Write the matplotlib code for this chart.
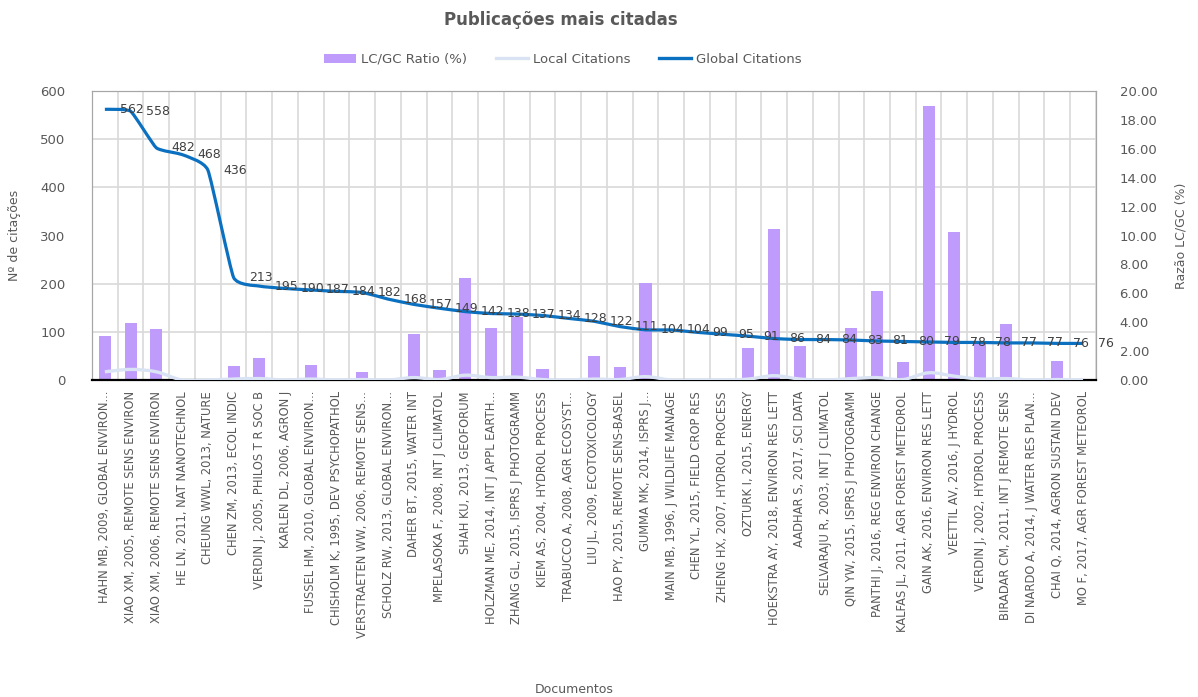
import numpy as np
import matplotlib
matplotlib.use("Agg")
import matplotlib.pyplot as plt
from matplotlib.path import Path
from matplotlib.patches import PathPatch, Patch
from matplotlib.lines import Line2D
from matplotlib.ticker import MultipleLocator, FixedLocator, FormatStrFormatter

# documentos (autor, ano, fonte)
documentos = [
    "HAHN MB, 2009, GLOBAL ENVIRON...", "XIAO XM, 2005, REMOTE SENS ENVIRON",
    "XIAO XM, 2006, REMOTE SENS ENVIRON", "HE LN, 2011, NAT NANOTECHNOL",
    "CHEUNG WWL, 2013, NATURE", "CHEN ZM, 2013, ECOL INDIC",
    "VERDIN J, 2005, PHILOS T R SOC B", "KARLEN DL, 2006, AGRON J",
    "FUSSEL HM, 2010, GLOBAL ENVIRON...", "CHISHOLM K, 1995, DEV PSYCHOPATHOL",
    "VERSTRAETEN WW, 2006, REMOTE SENS...", "SCHOLZ RW, 2013, GLOBAL ENVIRON...",
    "DAHER BT, 2015, WATER INT", "MPELASOKA F, 2008, INT J CLIMATOL",
    "SHAH KU, 2013, GEOFORUM", "HOLZMAN ME, 2014, INT J APPL EARTH...",
    "ZHANG GL, 2015, ISPRS J PHOTOGRAMM", "KIEM AS, 2004, HYDROL PROCESS",
    "TRABUCCO A, 2008, AGR ECOSYST...", "LIU JL, 2009, ECOTOXICOLOGY",
    "HAO PY, 2015, REMOTE SENS-BASEL", "GUMMA MK, 2014, ISPRS J...",
    "MAIN MB, 1996, J WILDLIFE MANAGE", "CHEN YL, 2015, FIELD CROP RES",
    "ZHENG HX, 2007, HYDROL PROCESS", "OZTURK I, 2015, ENERGY",
    "HOEKSTRA AY, 2018, ENVIRON RES LETT", "AADHAR S, 2017, SCI DATA",
    "SELVARAJU R, 2003, INT J CLIMATOL", "QIN YW, 2015, ISPRS J PHOTOGRAMM",
    "PANTHI J, 2016, REG ENVIRON CHANGE", "KALFAS JL, 2011, AGR FOREST METEOROL",
    "GAIN AK, 2016, ENVIRON RES LETT", "VEETTIL AV, 2016, J HYDROL",
    "VERDIN J, 2002, HYDROL PROCESS", "BIRADAR CM, 2011, INT J REMOTE SENS",
    "DI NARDO A, 2014, J WATER RES PLAN...", "CHAI Q, 2014, AGRON SUSTAIN DEV",
    "MO F, 2017, AGR FOREST METEOROL",
]

global_cit = [562, 558, 482, 468, 436, 213, 195, 190, 187, 184, 182, 168, 157,
              149, 142, 138, 137, 134, 128, 122, 111, 104, 104, 99, 95, 91, 86,
              84, 84, 83, 81, 80, 79, 78, 78, 77, 77, 76, 76]

local_cit = [17, 22, 17, 0, 0, 2, 3, 0, 2, 0, 1, 0, 5,
             1, 10, 5, 6, 1, 0, 2, 1, 7, 0, 0, 0, 2, 9,
             2, 0, 3, 5, 1, 15, 8, 2, 3, 0, 1, 0]

# razao LC/GC em %
ratio = [100.0 * lc / gc for lc, gc in zip(local_cit, global_cit)]

C_BAR = "#bf9cfb"
C_LOCAL = "#dae3f3"
C_GLOBAL = "#0b70c0"
C_TXT = "#595959"
C_GRID = "#d9d9d9"

plt.rcParams["font.family"] = "DejaVu Sans"


def smooth_path(x, y, k=6.0):
    """Curva suavizada (Catmull-Rom -> Bezier) passando pelos pontos"""
    pts = np.column_stack([x, y]).astype(float)
    n = len(pts)
    verts = [pts[0]]
    codes = [Path.MOVETO]
    for i in range(n - 1):
        p0 = pts[i - 1] if i > 0 else pts[i]
        p1 = pts[i]
        p2 = pts[i + 1]
        p3 = pts[i + 2] if i + 2 < n else pts[i + 1]
        c1 = p1 + (p2 - p0) / k
        c2 = p2 - (p3 - p1) / k
        verts += [c1, c2, p2]
        codes += [Path.CURVE4] * 3
    return Path(verts, codes)


x = np.arange(len(documentos))

fig = plt.figure(figsize=(11.98, 6.97), dpi=100)
ax1 = fig.add_axes([0.0768, 0.4548, 0.8380, 0.4146])
ax2 = ax1.twinx()
ax1.set_zorder(ax2.get_zorder() + 1)
ax1.patch.set_visible(False)

# barras da razao (eixo secundario, desenhado por baixo)
ax2.bar(x, ratio, width=0.47, color=C_BAR, zorder=2)
ax2.set_ylim(0, 20)
ax2.yaxis.set_major_locator(MultipleLocator(2))
ax2.yaxis.set_major_formatter(FormatStrFormatter("%.2f"))
ax2.yaxis.set_minor_locator(FixedLocator(np.arange(0, 21, 20 / 6)))
ax2.grid(True, axis="y", which="minor", color=C_GRID, linewidth=1.2)
ax2.grid(False, which="major")
ax2.set_axisbelow(True)
ax2.tick_params(axis="y", which="both", length=0, labelsize=9.5, labelcolor=C_TXT, pad=17)
ax2.set_ylabel("Razão LC/GC (%)", color=C_TXT, fontsize=9, labelpad=12)

# linhas de citacoes
ax1.add_patch(PathPatch(smooth_path(x, local_cit), facecolor="none",
                        edgecolor=C_LOCAL, linewidth=2.4, zorder=3))
ax1.add_patch(PathPatch(smooth_path(x, global_cit, k=14.0), facecolor="none",
                        edgecolor=C_GLOBAL, linewidth=2.3, zorder=4,
                        joinstyle="round", capstyle="butt"))
for xi, gc in zip(x, global_cit):
    ax1.annotate(str(gc), (xi, gc), xytext=(11, 0), textcoords="offset points",
                 ha="left", va="center", fontsize=9, color="#404040", zorder=5)

ax1.set_xlim(-0.5, len(x) - 0.5)
ax1.set_ylim(0, 600)
ax1.yaxis.set_major_locator(MultipleLocator(100))
ax1.set_xticks(x)
ax1.set_xticklabels(documentos, rotation=90, fontsize=8.3, color=C_TXT)
ax1.xaxis.set_minor_locator(FixedLocator(np.arange(-0.5, len(x), 1.0)))
ax1.grid(True, axis="x", which="minor", color=C_GRID, linewidth=1.2, zorder=0)
ax1.tick_params(axis="both", which="both", length=0, labelcolor=C_TXT)
ax1.tick_params(axis="y", labelsize=9.5, pad=19)
ax1.tick_params(axis="x", pad=8)
ax1.set_ylabel("Nº de citações", color=C_TXT, fontsize=9, labelpad=14)

for s in ["top", "left", "right"]:
    ax1.spines[s].set_color("#a6a6a6")
    ax2.spines[s].set_color("#a6a6a6")
ax1.spines["bottom"].set_color("black")
ax1.spines["bottom"].set_linewidth(1.6)
ax2.spines["bottom"].set_visible(False)

fig.text(0.468, 0.972, "Publicações mais citadas", ha="center", va="center",
         fontsize=12, fontweight="bold", color=C_TXT)
fig.text(0.479, 0.002, "Documentos", ha="center", va="bottom", fontsize=9, color=C_TXT)

handles = [Patch(facecolor=C_BAR, edgecolor="none"),
           Line2D([], [], color=C_LOCAL, linewidth=2.4),
           Line2D([], [], color=C_GLOBAL, linewidth=2.4)]
fig.legend(handles, ["LC/GC Ratio (%)", "Local Citations", "Global Citations"],
           loc="center", bbox_to_anchor=(0.47, 0.915), ncol=3, frameon=False,
           fontsize=9.5, labelcolor=C_TXT, handlelength=2.4, handletextpad=0.4,
           columnspacing=2.2)

fig.savefig("out.png", dpi=100)
